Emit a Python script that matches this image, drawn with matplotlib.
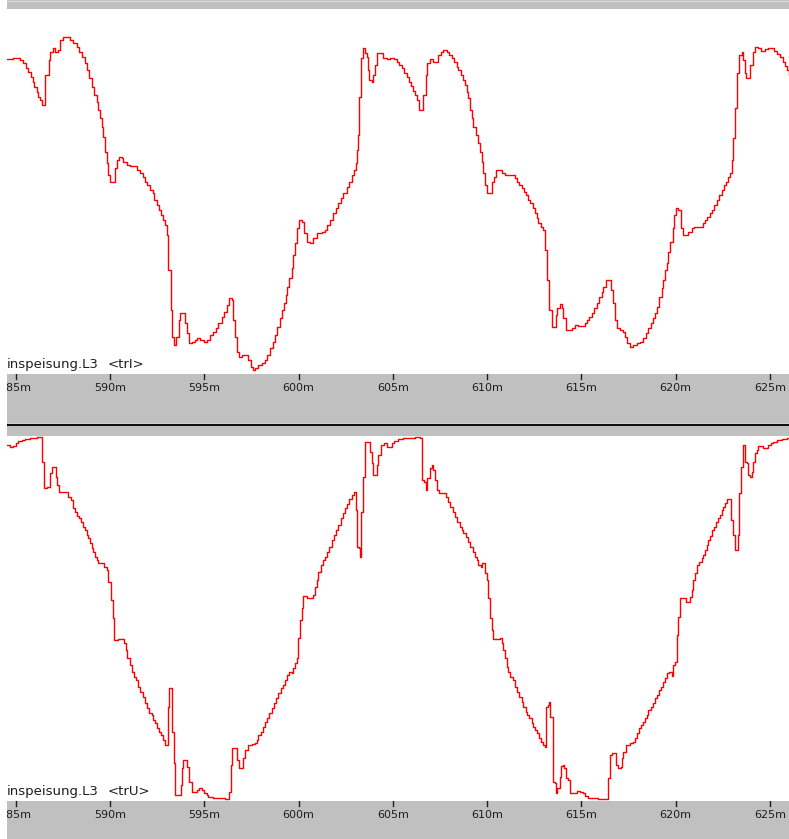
import matplotlib
matplotlib.use("Agg")
import matplotlib.pyplot as plt
from matplotlib.transforms import blended_transform_factory

plt.rcParams["font.family"] = ["DejaVu Sans"]

# ---- data -------------------------------------------------------------
# time axis in ms, values in raw ADC counts (no y scale shown)
t_current = [
    584.52, 584.88, 585.14, 585.23, 585.41, 585.55, 585.67, 585.80, 585.90, 585.99,
    586.11, 586.20, 586.29, 586.38, 586.50, 586.56, 586.79, 586.82, 586.96, 587.09,
    587.26, 587.35, 587.53, 587.71, 587.88, 588.06, 588.24, 588.38, 588.50, 588.68,
    588.80, 588.91, 589.03, 589.15, 589.30, 589.38, 589.47, 589.56, 589.65, 589.74,
    589.83, 589.92, 590.00, 590.21, 590.27, 590.39, 590.50, 590.62, 590.71, 590.89,
    591.06, 591.38, 591.45, 591.59, 591.74, 591.86, 591.98, 592.12, 592.27, 592.35,
    592.48, 592.58, 592.69, 592.80, 592.90, 593.01, 593.10, 593.24, 593.31, 593.42,
    593.50, 593.63, 593.68, 593.72, 593.89, 593.98, 594.07, 594.18, 594.33, 594.51,
    594.64, 594.78, 594.99, 595.13, 595.31, 595.48, 595.62, 595.75, 595.93, 596.05,
    596.19, 596.33, 596.46, 596.54, 596.63, 596.76, 596.86, 596.99, 597.22, 597.34,
    597.46, 597.57, 597.69, 597.87, 598.05, 598.22, 598.35, 598.49, 598.63, 598.75,
    598.88, 599.02, 599.13, 599.23, 599.34, 599.41, 599.51, 599.64, 599.73, 599.81,
    599.90, 600.04, 600.17, 600.29, 600.43, 600.61, 600.79, 600.96, 601.23, 601.40,
    601.53, 601.67, 601.81, 601.99, 602.11, 602.24, 602.38, 602.55, 602.70, 602.82,
    602.94, 603.05, 603.12, 603.17, 603.23, 603.31, 603.44, 603.53, 603.61, 603.70,
    603.76, 603.88, 603.97, 604.06, 604.15, 604.32, 604.50, 604.68,
    604.85, 605.06, 605.20, 605.34, 605.47, 605.59, 605.73, 605.84, 605.95, 606.05,
    606.18, 606.26, 606.37, 606.53, 606.58, 606.71, 606.76, 606.83, 606.97, 607.11,
    607.29, 607.41, 607.54, 607.68, 607.86, 608.00, 608.12, 608.24, 608.39, 608.47,
    608.60, 608.70, 608.83, 608.92, 609.00, 609.09, 609.18, 609.27, 609.41, 609.53,
    609.62, 609.71, 609.80, 609.89, 610.01, 610.15, 610.24, 610.37, 610.47, 610.60,
    610.77, 610.95, 611.30, 611.48, 611.60, 611.71, 611.83, 611.96, 612.06, 612.19,
    612.27, 612.42, 612.54, 612.63, 612.72, 612.84, 612.95, 613.07, 613.19, 613.30,
    613.42, 613.60, 613.65, 613.72, 613.87, 613.95, 614.04, 614.17, 614.31, 614.48,
    614.66, 614.84, 615.07, 615.19, 615.28, 615.42, 615.54, 615.67, 615.81, 615.95,
    616.07, 616.16, 616.30, 616.48, 616.55, 616.66, 616.78, 616.87, 617.05, 617.19,
    617.31, 617.44, 617.58, 617.75, 617.93, 618.11, 618.28, 618.43, 618.55, 618.67,
    618.78, 618.90, 618.99, 619.13, 619.26, 619.35, 619.43, 619.52, 619.61, 619.70,
    619.84, 619.91, 620.02, 620.14, 620.26, 620.41, 620.58, 620.67, 620.85, 620.97,
    621.29, 621.43, 621.55, 621.68, 621.82, 621.91, 622.03, 622.17, 622.31, 622.44,
    622.56, 622.67, 622.79, 622.88, 622.97, 623.06, 623.15, 623.27, 623.38, 623.50,
    623.59, 623.68, 623.73, 623.85, 623.94, 624.08, 624.21, 624.38, 624.51, 624.74,
    624.91, 625.09, 625.21, 625.36, 625.53, 625.67, 625.80, 625.92, 626.01,
]
v_current = [
    315, 316, 316, 314, 311, 306, 302, 297, 292, 287,
    282, 277, 274, 269, 269, 299, 314, 322, 326, 322,
    324, 334, 337, 337, 334, 331, 327, 322, 317, 311,
    304, 296, 287, 279, 272, 264, 256, 247, 237, 222,
    211, 199, 192, 192, 206, 214, 217, 216, 212, 209,
    208, 208, 204, 201, 197, 192, 189, 184, 181, 174,
    169, 164, 159, 154, 149, 139, 104, 64, 37, 29,
    37, 37, 54, 61, 61, 51, 41, 31, 32, 34,
    36, 34, 32, 34, 39, 42, 46, 51, 57, 62,
    69, 76, 74, 54, 37, 22, 17, 19, 19, 14,
    7, 4, 6, 9, 11, 14, 19, 26, 32, 39,
    47, 56, 64, 71, 79, 87, 96, 106, 119, 131,
    146, 154, 152, 141, 132, 131, 136, 141, 142, 144,
    149, 154, 161, 166, 171, 176, 181, 187, 192, 199,
    204, 211, 224, 239, 277, 316, 326, 321, 317, 304,
    294, 292, 299, 309, 321, 321, 316, 315,
    316, 315, 312, 309, 306, 301, 297, 292, 288, 283,
    279, 274, 264, 264, 279, 279, 299, 311, 315, 312,
    312, 319, 322, 324, 322, 319, 316, 312, 307, 304,
    299, 294, 289, 282, 276, 264, 256, 247, 239, 231,
    222, 212, 201, 189, 181, 181, 192, 197, 204, 204,
    201, 199, 199, 196, 192, 189, 186, 182, 179, 174,
    171, 166, 161, 156, 151, 147, 144, 124, 94, 64,
    47, 47, 59, 66, 70, 66, 56, 44, 44, 46,
    49, 48, 48, 51, 54, 57, 61, 66, 71, 77,
    82, 87, 94, 94, 84, 71, 54, 46, 44, 42,
    37, 31, 27, 29, 31, 32, 36, 41, 46, 51,
    56, 61, 67, 77, 86, 94, 104, 111, 122, 132,
    146, 159, 166, 164, 146, 139, 139, 142, 146, 147,
    147, 151, 154, 157, 161, 164, 169, 174, 179, 184,
    189, 192, 197, 201, 214, 236, 266, 301, 319, 322,
    314, 301, 296, 296, 309, 322, 327, 326, 323, 325,
    326, 326, 323, 320, 317, 312, 308, 304, 299,
]

t_voltage = [
    584.52, 584.70, 584.88, 585.02, 585.14, 585.32, 585.50, 585.76, 586.11, 586.29,
    586.38, 586.50, 586.52, 586.64, 586.79, 586.82, 586.91, 587.09, 587.14, 587.21,
    587.32, 587.53, 587.71, 587.79, 587.92, 588.02, 588.15, 588.24, 588.38, 588.45,
    588.55, 588.68, 588.77, 588.85, 588.94, 589.03, 589.12, 589.21, 589.30, 589.38,
    589.56, 589.70, 589.83, 589.92, 590.04, 590.14, 590.23, 590.45, 590.68, 590.75,
    590.85, 590.92, 591.06, 591.15, 591.28, 591.38, 591.51, 591.59, 591.74, 591.86,
    591.95, 592.09, 592.21, 592.30, 592.39, 592.48, 592.62, 592.71, 592.80, 592.92,
    593.01, 593.06, 593.11, 593.24, 593.31, 593.40, 593.47, 593.72, 593.75, 593.80,
    593.89, 594.03, 594.10, 594.19, 594.33, 594.51, 594.60, 594.74, 594.86, 594.99,
    595.13, 595.22, 595.48, 595.84, 596.10, 596.28, 596.33, 596.40, 596.49, 596.69,
    596.76, 596.86, 596.99, 597.07, 597.16, 597.34, 597.52, 597.69, 597.78, 597.87,
    597.99, 598.10, 598.22, 598.31, 598.45, 598.58, 598.70, 598.81, 598.93, 599.05,
    599.16, 599.28, 599.41, 599.51, 599.64, 599.73, 599.81, 599.90, 599.99, 600.08,
    600.17, 600.26, 600.43, 600.65, 600.75, 600.88, 600.96, 601.05, 601.18, 601.28,
    601.41, 601.53, 601.64, 601.76, 601.88, 601.99, 602.11, 602.24, 602.34, 602.47,
    602.59, 602.70, 602.82, 602.94, 603.05, 603.12, 603.23, 603.26, 603.31, 603.40,
    603.44, 603.53, 603.70, 603.79, 603.88, 603.93, 604.11, 604.15, 604.23, 604.38,
    604.53, 604.68,
    604.85, 604.94, 605.06, 605.29, 605.56, 606.00, 606.18, 606.44, 606.53, 606.65,
    606.74, 606.79, 606.92, 606.97, 607.06, 607.15, 607.24, 607.32, 607.47, 607.68,
    607.82, 607.94, 608.03, 608.17, 608.30, 608.42, 608.56, 608.65, 608.74, 608.88,
    609.00, 609.09, 609.23, 609.36, 609.45, 609.53, 609.66, 609.71, 609.83, 609.89,
    609.98, 610.06, 610.15, 610.24, 610.33, 610.60, 610.68, 610.77, 610.86, 610.95,
    611.04, 611.13, 611.21, 611.36, 611.48, 611.60, 611.71, 611.83, 611.92, 612.06,
    612.13, 612.24, 612.36, 612.45, 612.54, 612.63, 612.77, 612.84, 612.95, 613.07,
    613.12, 613.21, 613.28, 613.34, 613.42, 613.48, 613.51, 613.60, 613.65, 613.69,
    613.78, 613.87, 613.92, 614.01, 614.10, 614.18, 614.31, 614.40, 614.57, 614.75,
    614.93, 615.07, 615.19, 615.37, 615.72, 615.90, 616.34, 616.43, 616.52, 616.61,
    616.78, 616.84, 616.96, 617.08, 617.15, 617.22, 617.37, 617.58, 617.75, 617.84,
    617.93, 618.07, 618.14, 618.25, 618.37, 618.46, 618.55, 618.67, 618.78, 618.90,
    618.99, 619.13, 619.20, 619.31, 619.43, 619.52, 619.66, 619.79, 619.88, 619.96,
    620.05, 620.14, 620.23, 620.41, 620.55, 620.67, 620.76, 620.85, 620.94, 621.02,
    621.11, 621.25, 621.38, 621.47, 621.55, 621.64, 621.73, 621.82, 621.91, 622.03,
    622.14, 622.26, 622.35, 622.44, 622.53, 622.62, 622.70, 622.88, 622.92, 623.02,
    623.06, 623.15, 623.27, 623.32, 623.38, 623.45, 623.55, 623.62, 623.68, 623.80,
    623.85, 623.94, 624.03, 624.12, 624.21, 624.29, 624.38, 624.56, 624.65, 624.83,
    624.91, 625.04, 625.18, 625.36, 625.62, 625.89, 626.10,
]
v_voltage = [
    356, 354, 355, 358, 360, 361, 362, 363, 364, 364,
    339, 339, 313, 314, 314, 328, 334, 334, 324, 316,
    309, 309, 309, 304, 301, 293, 289, 285, 283, 279,
    274, 271, 266, 263, 258, 253, 249, 244, 241, 238,
    238, 234, 231, 219, 201, 183, 161, 162, 162, 158,
    151, 143, 136, 129, 124, 121, 114, 109, 104, 98,
    93, 88, 86, 81, 78, 73, 69, 66, 61, 56,
    56, 94, 113, 113, 69, 38, 6, 6, 16, 33,
    41, 41, 34, 19, 9, 9, 11, 13, 11, 8,
    6, 4, 3, 3, 2, 2, 9, 36, 53, 53,
    41, 33, 33, 43, 51, 56, 57, 58, 61, 66,
    69, 74, 79, 83, 88, 93, 98, 103, 108, 113,
    116, 121, 126, 129, 128, 133, 138, 143, 163, 181,
    193, 205, 203, 203, 206, 214, 221, 229, 236, 241,
    244, 249, 254, 261, 266, 271, 276, 283, 288, 293,
    297, 302, 306, 309, 291, 254, 253, 244, 289, 291,
    324, 359, 359, 349, 338, 326, 326, 336, 346, 356,
    358, 354,
    354, 358, 360, 362, 363, 363, 364, 363, 321, 319,
    311, 323, 323, 333, 336, 331, 321, 311, 308, 308,
    304, 299, 294, 289, 284, 279, 274, 271, 268, 264,
    259, 254, 249, 244, 241, 236, 234, 238, 238, 228,
    221, 203, 183, 171, 162, 162, 163, 158, 151, 143,
    134, 129, 124, 121, 114, 109, 104, 99, 94, 89,
    86, 83, 78, 74, 71, 68, 63, 59, 56, 54,
    94, 96, 99, 84, 84, 49, 19, 18, 8, 13,
    13, 24, 35, 36, 33, 23, 21, 8, 8, 10,
    9, 8, 5, 3, 3, 2, 2, 23, 46, 48,
    48, 36, 33, 34, 43, 49, 56, 58, 59, 63,
    68, 73, 76, 79, 83, 86, 91, 94, 98, 103,
    106, 111, 114, 119, 123, 128, 129, 125, 136, 139,
    166, 184, 203, 203, 199, 199, 204, 211, 221, 228,
    236, 239, 243, 246, 251, 256, 261, 265, 271, 274,
    279, 283, 286, 291, 294, 298, 302, 302, 281, 281,
    266, 251, 251, 266, 308, 334, 356, 356, 339, 338,
    326, 324, 329, 339, 348, 351, 355, 355, 353, 353,
    356, 358, 359, 361, 362, 363, 363,
]

ticks_ms = [585, 590, 595, 600, 605, 610, 615, 620, 625]
channel_name = "inspeisung.L3"
channel_tags = ["<trI>", "<trU>"]

T_MIN, T_MAX = 584.54, 626.01
V_MAX = 365

# ---- layout (pixel geometry of the scope window) ----------------------
W, H = 789, 839
fig = plt.figure(figsize=(W / 100, H / 100), dpi=100)
fig.patch.set_facecolor("white")

GRAY = "#c0c0c0"
TEXT = "#1e1e1e"
RED = "#ff0000"


def px_axes(x0, y0, x1, y1, **kw):
    """Axes placed by pixel box (y measured from the top)."""
    return fig.add_axes([x0 / W, 1 - y1 / H, (x1 - x0) / W, (y1 - y0) / H], **kw)


def blank(ax, color):
    ax.set_facecolor(color)
    ax.set_xticks([])
    ax.set_yticks([])
    for s in ax.spines.values():
        s.set_visible(False)


def plot_panel(y0, y1, t, v, tag):
    ax = px_axes(7, y0, W, y1)
    blank(ax, "white")
    ax.step(t, v, where="post", color=RED, lw=1.0)
    ax.set_xlim(T_MIN, T_MAX)
    ax.set_ylim(0, V_MAX)
    base = 6 / (y1 - y0)
    ax.text(0.0, base, channel_name, transform=ax.transAxes, ha="left",
            va="baseline", fontsize=9.5, color=TEXT)
    tr = blended_transform_factory(ax.transData, ax.transAxes)
    ax.text(590.0 - 2 / 18.857, base, tag, transform=tr, ha="left",
            va="baseline", fontsize=9.5, color=TEXT)
    return ax


def time_bar(y0, y1, label_y):
    ax = px_axes(7, y0, W, y1)
    blank(ax, GRAY)
    ax.set_xlim(T_MIN, T_MAX)
    ax.set_ylim(0, 1)
    h = y1 - y0
    for tk in ticks_ms:
        ax.plot([tk, tk], [1, 1 - 5 / h], color=TEXT, lw=1.0, clip_on=True)
        ax.text(tk, 1 - (label_y - y0) / h, f"{tk}m", ha="center", va="center",
                fontsize=8, color=TEXT, clip_on=True)
    return ax


# top title strip
top_strip = px_axes(7, 0, W, 9)
blank(top_strip, GRAY)
top_strip.axhline(0.93, color="#d8d8d8", lw=1.0)

# current panel
plot_panel(9, 374, t_current, v_current, channel_tags[0])
time_bar(374, 423, 388)

# splitter between the two panels
split = px_axes(7, 423, W, 436)
blank(split, GRAY)
split.set_ylim(0, 13)
split.axhspan(10.5, 12.5, color="#101010", lw=0)
split.axhspan(12.5, 13, color="#d0d0d0", lw=0)

# voltage panel
plot_panel(436, 801, t_voltage, v_voltage, channel_tags[1])
time_bar(801, 839, 815)

fig.savefig("out.png", dpi=100, facecolor="white")
